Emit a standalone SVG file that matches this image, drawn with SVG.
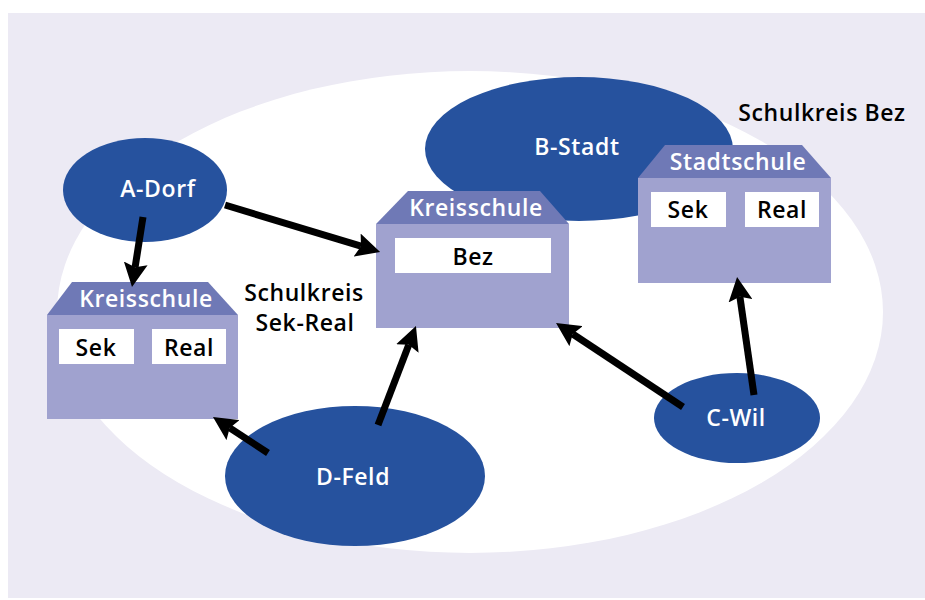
<svg xmlns="http://www.w3.org/2000/svg" width="925" height="600" viewBox="0 0 925 600">
<style>
.t{font-family:"Open Sans","Liberation Sans",sans-serif;font-weight:600;font-size:23px;letter-spacing:0.6px;text-anchor:middle}
.w{fill:#ffffff}
.k{fill:#000000}
.ell{fill:#26529e}
.roof{fill:#6f79b6}
.body{fill:#a0a2cf}
.box{fill:#ffffff}
.arr{stroke:#000;stroke-width:7;fill:none;marker-end:url(#ah)}
</style>
<defs>
<marker id="ah" viewBox="0 0 24 24" markerWidth="24" markerHeight="24" refX="4" refY="12" orient="auto" markerUnits="userSpaceOnUse">
<path d="M0,0 L24,12 L0,24 L4,12 z" fill="#000"/>
</marker>
</defs>
<rect x="8" y="13" width="917" height="585" fill="#eceaf4"/>
<ellipse cx="470" cy="312" rx="413" ry="241" fill="#ffffff"/>
<g id="b-stadt"><ellipse class="ell" cx="579" cy="149" rx="154" ry="72"/><text class="t w" x="577" y="155">B-Stadt</text></g>
<g id="a-dorf"><ellipse class="ell" cx="145" cy="190" rx="82" ry="52"/><text class="t w" x="158" y="197">A-Dorf</text></g>
<g id="d-feld"><ellipse class="ell" cx="355" cy="476" rx="130" ry="70"/><text class="t w" x="353" y="485">D-Feld</text></g>
<g id="c-wil"><ellipse class="ell" cx="737" cy="418" rx="83" ry="45"/><text class="t w" x="736" y="426">C-Wil</text></g>
<g id="kreisschule-sek-real">
<polygon class="roof" points="72,282 208,282 238,315 47,315"/>
<rect class="body" x="47" y="315" width="191" height="104"/>
<text class="t w" x="146" y="307">Kreisschule</text>
<rect class="box" x="59" y="329" width="75" height="35"/><text class="t k" x="96" y="356">Sek</text>
<rect class="box" x="152" y="329" width="74" height="35"/><text class="t k" x="189" y="356">Real</text>
</g>
<g id="kreisschule-bez">
<polygon class="roof" points="408,191 540,191 569,224 376,224"/>
<rect class="body" x="376" y="224" width="193" height="104"/>
<text class="t w" x="476" y="216">Kreisschule</text>
<rect class="box" x="395" y="238" width="156" height="35"/><text class="t k" x="473" y="265">Bez</text>
</g>
<g id="stadtschule">
<polygon class="roof" points="665,145 802,145 831,178 638,178"/>
<rect class="body" x="638" y="178" width="193" height="105"/>
<text class="t w" x="738" y="170">Stadtschule</text>
<rect class="box" x="651" y="192" width="75" height="35"/><text class="t k" x="688" y="218">Sek</text>
<rect class="box" x="745" y="192" width="74" height="35"/><text class="t k" x="782" y="218">Real</text>
</g>
<g id="label-bez"><text class="t k" x="822" y="121">Schulkreis Bez</text></g>
<g id="label-sek-real"><text class="t k" x="304" y="301">Schulkreis</text><text class="t k" x="305" y="331">Sek-Real</text></g>
<g id="connectors">
<line class="arr" x1="225" y1="205" x2="361" y2="246.2"/>
<line class="arr" x1="143" y1="217" x2="135.1" y2="267.3"/>
<line class="arr" x1="268" y1="453" x2="229.7" y2="427.9"/>
<line class="arr" x1="378" y1="425" x2="408.8" y2="344.7"/>
<line class="arr" x1="683" y1="407" x2="572.7" y2="334"/>
<line class="arr" x1="754" y1="395" x2="739.9" y2="296.8"/>
</g>
</svg>
